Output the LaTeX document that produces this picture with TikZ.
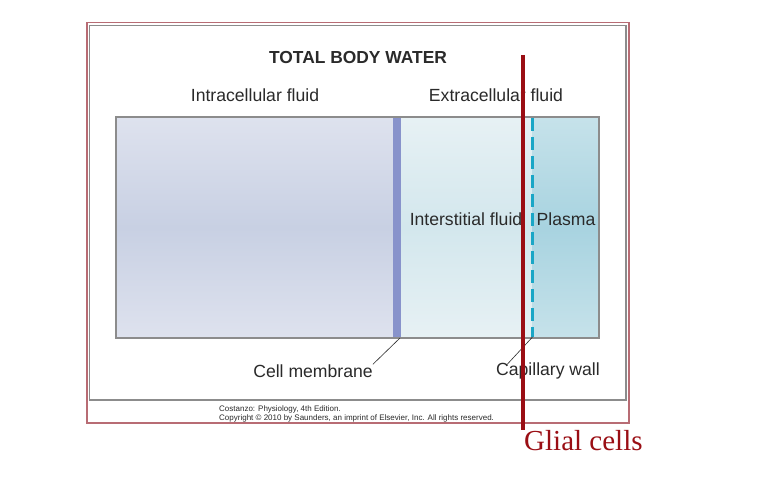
\documentclass[tikz,border=0pt]{standalone}
\usepackage{fontspec}
\setmainfont{Liberation Sans}
\newfontfamily\glialfont{Liberation Serif}
\definecolor{frameRed}{HTML}{B86C74}
\definecolor{frameGray}{HTML}{8C8C8C}
\definecolor{icfTop}{HTML}{DEE2EE}
\definecolor{icfMid}{HTML}{C8D0E3}
\definecolor{isfTop}{HTML}{E7F1F4}
\definecolor{isfMid}{HTML}{D3E7ED}
\definecolor{plTop}{HTML}{C6E2EA}
\definecolor{plMid}{HTML}{A8D3E0}
\definecolor{membC}{HTML}{8893CB}
\definecolor{capC}{HTML}{1AA6C6}
\definecolor{glialRed}{HTML}{9A0E14}
\definecolor{txt}{HTML}{2A2A2A}
\tikzset{
  lbl/.style={font=\fontsize{17.6}{20}\selectfont, text=txt, inner sep=0pt},
  ttl/.style={font=\fontsize{17.4}{20}\selectfont\bfseries, text=txt, inner sep=0pt},
  small/.style={font=\fontsize{8}{9}\selectfont, text=txt, inner sep=0pt, align=left},
  leader/.style={draw=txt, line width=0.6pt},
}
\begin{document}
\begin{tikzpicture}[x=1pt,y=-1pt]
\useasboundingbox (0,0) rectangle (766,486);
\fill[white] (0,0) rectangle (766,486);
% frames
\draw[frameRed, line width=1.8pt] (87.3,22.5) rectangle (628.7,422.7);
\draw[frameGray, line width=1.8pt] (89.5,25.5) rectangle (626.3,400.3);
% compartments
\shade[top color=icfTop, bottom color=icfTop, middle color=icfMid] (116,117) rectangle (393,338);
\shade[top color=isfTop, bottom color=isfTop, middle color=isfMid] (400,117) rectangle (532,338);
\shade[top color=plTop, bottom color=plTop, middle color=plMid] (532,117) rectangle (599,338);
\fill[membC] (393,117) rectangle (400.5,338);
\draw[frameGray, line width=1.1pt] (116,117) rectangle (599,338);
\coordinate (capTop) at (532.5,118);
\coordinate (capBot) at (532.5,337);
\draw[capC, line width=3pt, dash pattern=on 13pt off 6pt] (capTop) -- (capBot);
\coordinate (membBot) at (400,338);
% labels
\node[ttl] (title) at (358,58) {TOTAL BODY WATER};
\node[lbl] (icf) at (255,95) {Intracellular fluid};
\node[lbl] (ecf) at (496,95) {Extracellular fluid};
\node[lbl] (isf) at (466,219) {Interstitial fluid};
\node[lbl] (plasma) at (566,219) {Plasma};
\node[lbl] (cellm) at (313,371) {Cell membrane};
\node[lbl] (capw) at (548,371) {Capillary wall};
\node[small, anchor=north west] (copy) at (219,406) {Costanzo: Physiology, 4th Edition.\\Copyright \textcopyright{} 2010 by Saunders, an imprint of Elsevier, Inc. All rights reserved.};
% leaders
\draw[leader] (membBot) -- (cellm.north east);
\draw[leader] (capBot) -- ([xshift=11pt,yshift=-2pt]capw.north west);
% glial cells line
\coordinate (gTop) at (523,55);
\coordinate (gBot) at (523,430);
\draw[glialRed, line width=3.2pt] (gTop) -- (gBot);
\node[font=\glialfont\fontsize{29}{32}\selectfont, text=glialRed, anchor=base west, inner sep=0pt] (glial) at (524,450) {Glial cells};
\end{tikzpicture}
\end{document}
